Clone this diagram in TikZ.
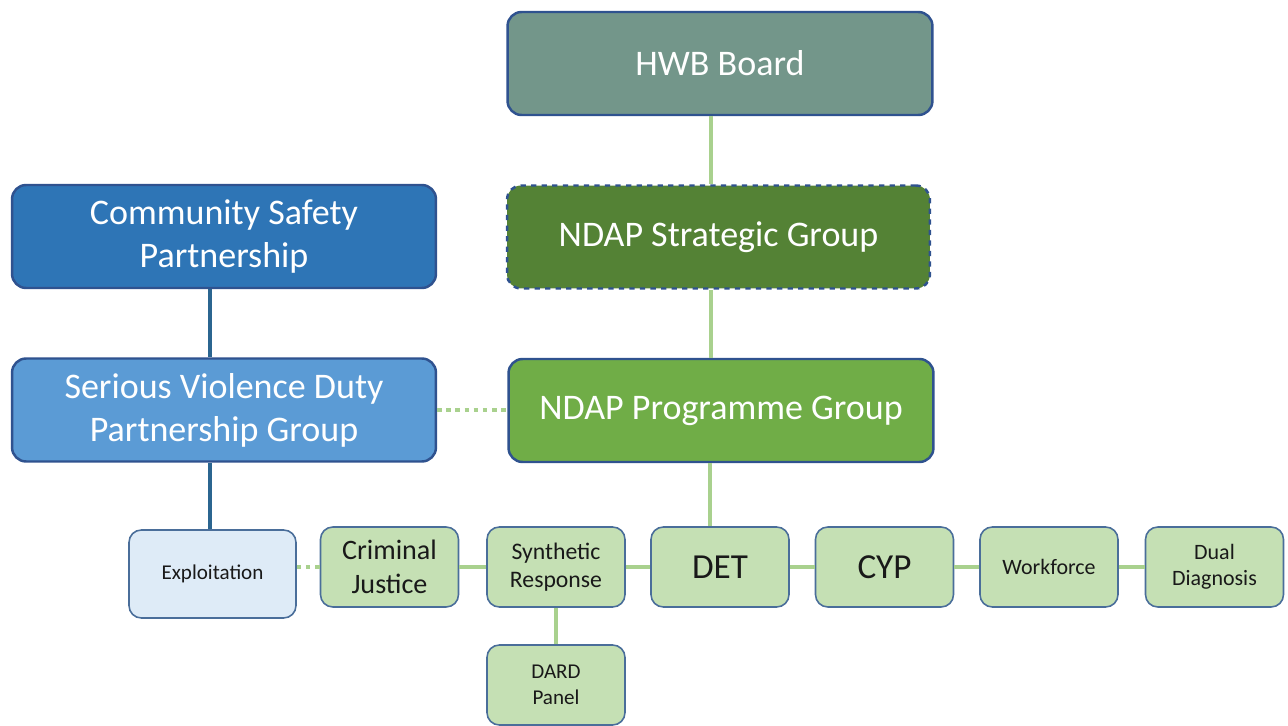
\documentclass[tikz,border=0pt]{standalone}
\usepackage{fontspec}
\setmainfont{Carlito}
\usetikzlibrary{positioning}

\definecolor{hwbfill}{HTML}{73968A}
\definecolor{stratfill}{HTML}{548235}
\definecolor{progfill}{HTML}{70AD47}
\definecolor{cspfill}{HTML}{2E75B6}
\definecolor{svdfill}{HTML}{5B9BD5}
\definecolor{expfill}{HTML}{DEEBF7}
\definecolor{subfill}{HTML}{C5E0B4}
\definecolor{bigedge}{HTML}{2F528F}
\definecolor{smalledge}{HTML}{4A6E9A}
\definecolor{greenlink}{HTML}{A9D18E}
\definecolor{bluelink}{HTML}{2B6590}

\tikzset{
  bigbox/.style={draw=bigedge, line width=1.4pt, rounded corners=8pt,
    minimum width=8.5cm, minimum height=2.06cm, align=center,
    text=white, font=\fontsize{20.5}{24.5}\selectfont},
  subbox/.style={draw=smalledge, line width=0.9pt, fill=subfill, rounded corners=7pt,
    minimum width=2.76cm, minimum height=1.6cm, align=center,
    text=black!90, font=\fontsize{12.5}{15}\selectfont},
  greenline/.style={draw=greenlink, line width=1.8pt},
  greendots/.style={draw=greenlink, line width=2.6pt, dash pattern=on 2.6pt off 2.6pt},
  blueline/.style={draw=bluelink, line width=2.1pt}
}

\begin{document}
\begin{tikzpicture}[x=0.02cm, y=-0.02cm]
  \useasboundingbox (0,0) rectangle (1288,726);

  % top column
  \node[bigbox, fill=hwbfill] (hwb) at (720,63.5) {HWB Board};
  \node[bigbox, fill=stratfill, dashed, minimum width=8.46cm] (strat) at (718.5,237) {NDAP Strategic Group};
  \node[bigbox, fill=progfill] (prog) at (721,410.5) {NDAP Programme Group};

  % left column
  \node[bigbox, fill=cspfill, minimum width=8.48cm] (csp) at (224,236.5) {Community Safety\\Partnership};
  \node[bigbox, fill=svdfill, minimum width=8.48cm] (svd) at (224,410) {Serious Violence Duty\\Partnership Group};

  % sub groups
  \node[subbox, fill=expfill, minimum width=3.34cm, minimum height=1.76cm,
        font=\fontsize{12}{14}\selectfont] (exp) at (212.5,574) {Exploitation};
  \node[subbox, font=\fontsize{16}{19}\selectfont] (cj) at (389.5,567) {Criminal\\Justice};
  \node[subbox, font=\fontsize{13.5}{16}\selectfont] (syn) at (556,567) {Synthetic\\Response};
  \node[subbox, font=\fontsize{20}{24}\selectfont] (det) at (720,567) {DET};
  \node[subbox, font=\fontsize{20}{24}\selectfont] (cyp) at (884.5,567) {CYP};
  \node[subbox] (work) at (1049,567) {Workforce};
  \node[subbox] (dual) at (1214.5,567) {Dual\\Diagnosis};
  \node[subbox, font=\fontsize{12}{15}\selectfont] (dard) at (556,685) {DARD\\Panel};

  % links
  \draw[greenline] (hwb.south -| 711,0) -- (strat.north -| 711,0);
  \draw[greenline] (strat.south -| 711,0) -- (prog.north -| 711,0);
  \draw[greenline] (prog.south -| 710,0) -- (det.north -| 710,0);
  \draw[blueline] (csp.south -| 210,0) -- (svd.north -| 210,0);
  \draw[blueline] (svd.south -| 210,0) -- (exp.north -| 210,0);
  \draw[greendots] (svd.east) -- (prog.west |- svd.east);
  \draw[greendots] (exp.east |- cj.west) -- (cj.west);
  \draw[greenline] (cj) -- (syn);
  \draw[greenline] (syn) -- (det);
  \draw[greenline] (det) -- (cyp);
  \draw[greenline] (cyp) -- (work);
  \draw[greenline] (work) -- (dual);
  \draw[greenline] (syn.south) -- (dard.north);
\end{tikzpicture}
\end{document}
